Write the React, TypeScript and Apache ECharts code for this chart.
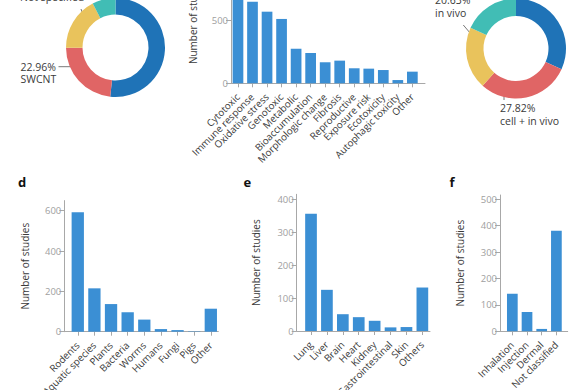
import React, { useEffect, useRef } from "react";
import * as echarts from "echarts";

// ---------- data ----------
const materialNames = ["MWCNT", "SWCNT", "Other CNT", "Not specified"];
const materialShares = [51.7, 23.2, 17.5, 7.6];
const materialLabels = ["", "22.96%\nSWCNT", "Not specified", ""];

const modelNames = ["in vitro", "cell + in vivo", "in vivo", "other"];
const modelShares = [31.8, 29.9, 20.2, 18.2];
const modelLabels = ["", "27.82%\ncell + in vivo", "20.63%\nin vivo", ""];

const endpointCats = [
  "Cytotoxic", "Immune response", "Oxidative stress", "Genotoxic", "Metabolic",
  "Bioaccumulation", "Morphologic change", "Fibrosis", "Reproductive",
  "Exposure risk", "Ecotoxicity", "Autophagic toxicity", "Other",
];
const endpointVals = [700, 652, 572, 514, 276, 242, 168, 181, 120, 117, 106, 26, 93];
const endpointTicks = [0, 500];

const organismCats = ["Rodents", "Aquatic species", "Plants", "Bacteria", "Worms", "Humans", "Fungi", "Pigs", "Other"];
const organismVals = [592, 215, 137, 96, 60, 13, 8, 2, 114];
const organismTicks = [0, 200, 400, 600];

const organCats = ["Lung", "Liver", "Brain", "Heart", "Kidney", "Gastrointestinal", "Skin", "Others"];
const organVals = [356, 125, 51, 42, 31, 11, 12, 132];
const organTicks = [0, 100, 200, 300, 400];

const routeCats = ["Inhalation", "Injection", "Dermal", "Not classified"];
const routeVals = [142, 73, 9, 381];
const routeTicks = [0, 100, 200, 300, 400, 500];

// ---------- style ----------
const FONT = "Open Sans";
const BAR = "#3b8fd4";
const PIE_COLORS = ["#1f73b7", "#e06565", "#e9c35c", "#41bdb5"];
const AXIS = "#a8a8a8";
const TICK_TXT = "#a0a0a0";
const TXT = "#3a3a3a";

type Panel = {
  cats: string[]; vals: number[]; ticks: number[];
  left: number; top: number; width: number; height: number;
  xmin: number; xmax: number; ymax: number; barWidth: number; nameGap: number;
};

const panels: Panel[] = [
  { cats: endpointCats, vals: endpointVals, ticks: endpointTicks, left: 231, top: -41.9, width: 194, height: 125.2, xmin: -0.48, xmax: 12.87, ymax: 1000, barWidth: 10.7, nameGap: 33 },
  { cats: organismCats, vals: organismVals, ticks: organismTicks, left: 64.3, top: 200.6, width: 154, height: 131.1, xmin: -0.81, xmax: 8.45, ymax: 650, barWidth: 12.3, nameGap: 34 },
  { cats: organCats, vals: organVals, ticks: organTicks, left: 296.7, top: 194.3, width: 133.3, height: 136.7, xmin: -0.9, xmax: 7.48, ymax: 415, barWidth: 11.7, nameGap: 36 },
  { cats: routeCats, vals: routeVals, ticks: routeTicks, left: 500, top: 195, width: 67.7, height: 136.3, xmin: -0.84, xmax: 3.77, ymax: 516, barWidth: 10.7, nameGap: 35 },
];

function buildOption() {
  const grid = panels.map((p) => ({
    left: p.left, top: p.top, width: p.width, height: p.height,
    containLabel: false, outerBoundsMode: "none",
  }));
  const xAxis = panels.map((p, i) => {
    const idx = p.cats.map((_, k) => k);
    return {
      type: "value", gridIndex: i, min: p.xmin, max: p.xmax,
      splitLine: { show: false },
      axisLine: { show: true, onZero: false, lineStyle: { color: AXIS, width: 1 } },
      axisTick: { show: true, length: 4, customValues: idx, lineStyle: { color: AXIS } },
      axisLabel: {
        show: true, customValues: idx, rotate: 45, margin: 12,
        formatter: (v: number) => p.cats[Math.round(v)] ?? "",
        color: TXT, fontSize: 9.8, fontFamily: FONT,
      },
    };
  });
  const yAxis = panels.map((p, i) => ({
    type: "value", gridIndex: i, min: 0, max: p.ymax,
    name: "Number of studies", nameLocation: "middle", nameGap: p.nameGap,
    nameTextStyle: { color: TXT, fontSize: 10, fontFamily: FONT },
    splitLine: { show: false },
    axisLine: { show: true, onZero: false, lineStyle: { color: AXIS, width: 1 } },
    axisTick: { show: true, length: 5, customValues: p.ticks, lineStyle: { color: AXIS } },
    axisLabel: { show: true, customValues: p.ticks, margin: 3, color: TICK_TXT, fontSize: 9.5, fontFamily: FONT },
  }));
  const barSeries = panels.map((p, i) => ({
    type: "bar", xAxisIndex: i, yAxisIndex: i, barWidth: p.barWidth,
    itemStyle: { color: BAR },
    data: p.vals.map((v, k) => [k, v]),
    silent: true,
  }));
  const pie = (center: number[], radius: number[], names: string[], vals: number[]) => ({
    type: "pie", center, radius, startAngle: 90, clockwise: true,
    label: { show: false }, labelLine: { show: false }, silent: true,
    data: vals.map((v, k) => ({ name: names[k], value: v, itemStyle: { color: PIE_COLORS[k] } })),
  });

  const txt = (x: number, y: number, text: string, extra: any = {}) => ({
    type: "text", x, y, silent: true,
    style: { text, fill: TXT, fontSize: 10.5, fontFamily: FONT, verticalAlign: "middle", lineHeight: 12.7, ...extra },
  });
  const ln = (x1: number, y1: number, x2: number, y2: number) => ({
    type: "line", silent: true, shape: { x1, y1, x2, y2 }, style: { stroke: "#555", lineWidth: 0.8 },
  });

  const graphic = [
    txt(20, -3, materialLabels[2]),
    ln(81, 9, 83, 14.5),
    txt(20.5, 73, materialLabels[1]),
    ln(58.5, 66.7, 75, 66.7),
    txt(435, 6.8, modelLabels[2]),
    ln(463.3, 25, 469.5, 32.3),
    txt(500, 114.6, modelLabels[1]),
    ln(504, 91.5, 504, 100),
    txt(18, 182, "d", { fontSize: 13, fontWeight: "bold", fill: "#111" }),
    txt(243.5, 182, "e", { fontSize: 13, fontWeight: "bold", fill: "#111" }),
    txt(449.5, 182, "f", { fontSize: 13, fontWeight: "bold", fill: "#111" }),
  ];

  return {
    animation: false,
    backgroundColor: "#ffffff",
    textStyle: { fontFamily: FONT },
    grid, xAxis, yAxis,
    series: [
      ...barSeries,
      pie([115.5, 47.5], [33, 49.5], materialNames, materialShares),
      pie([516, 48.5], [32.5, 50], modelNames, modelShares),
    ],
    graphic,
  };
}

export default function App() {
  const ref = useRef<HTMLDivElement>(null);
  useEffect(() => {
    if (!ref.current) return;
    const chart = echarts.init(ref.current, null, { renderer: "svg" });
    chart.setOption(buildOption() as any);
    return () => chart.dispose();
  }, []);
  return (
    <div
      ref={ref}
      style={{ position: "absolute", left: 0, top: 0, width: 585, height: 390, background: "#fff" }}
    />
  );
}
